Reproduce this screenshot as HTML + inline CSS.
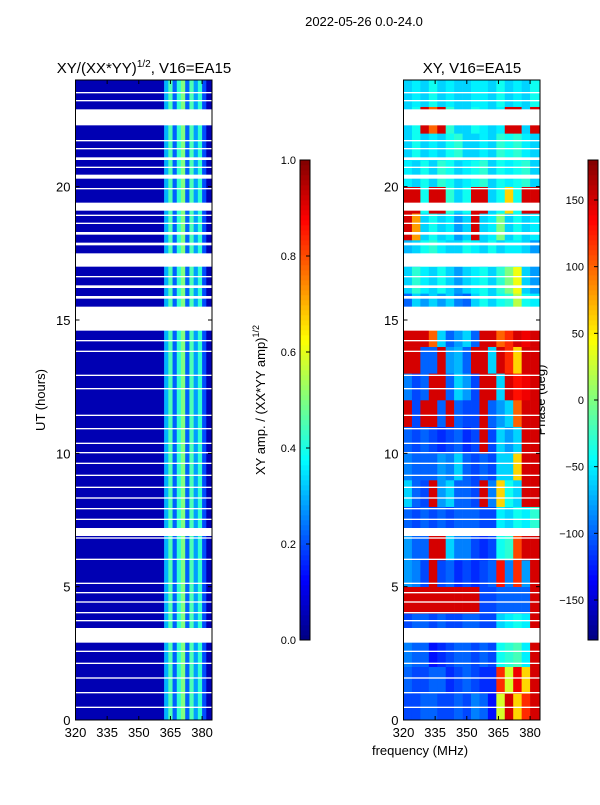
<!DOCTYPE html>
<html><head><meta charset="utf-8">
<style>
body{margin:0;background:#fff;font-family:"Liberation Sans",sans-serif;}
svg text{font-family:"Liberation Sans",sans-serif;fill:#000;}
</style></head>
<body>
<svg id="fig" width="600" height="800" viewBox="0 0 600 800" xmlns="http://www.w3.org/2000/svg">
<rect width="600" height="800" fill="#fff"/>
<text x="364" y="26" font-size="13" text-anchor="middle">2022-05-26 0.0-24.0</text>
<text x="144" y="73" font-size="15" text-anchor="middle">XY/(XX*YY)<tspan font-size="10" dy="-6">1/2</tspan><tspan dy="6">, V16=EA15</tspan></text>
<text x="472" y="73" font-size="15" text-anchor="middle">XY, V16=EA15</text>
<text transform="translate(45,400) rotate(-90)" font-size="13" text-anchor="middle">UT (hours)</text>
<text x="420" y="755" font-size="13" text-anchor="middle">frequency (MHz)</text>
<text transform="translate(265,400) rotate(-90)" font-size="13" text-anchor="middle">XY amp. / (XX*YY amp)<tspan font-size="9" dy="-6">1/2</tspan></text>
<text transform="translate(545,400) rotate(-90)" font-size="13" text-anchor="middle">Phase (deg)</text>
<g id="left"></g>
<g id="right"></g>
<g id="cb1"></g>
<g id="cb2"></g>
<g id="axes"></g>
</svg>
<script>
const freqEdges=[320,324,328,332,336,340,344,348,352,356,360,364,368,372,376,380,384.7];
const ampFreqEdges=[320,362,364,366,368,370,372,374,376,378,380,382,384.7];
const ampValues=[0.05,0.3,0.45,0.22,0.42,0.5,0.22,0.45,0.28,0.42,0.2,0.05];
const phaseValues=[
[-110,-110,-100,-100,-110,-110,-100,-110,-90,-100,-130,30,150,60,120,150],
[-100,-110,-110,-100,-100,-120,-110,-100,-110,-120,-120,120,30,140,60,150],
[-90,-100,-100,-130,-120,-110,-100,-100,-110,-100,-110,-40,-30,-20,-50,150],
[-110,-100,-100,-110,-100,-110,-110,-100,-100,-110,-110,-60,-50,-40,-50,150],
[150,150,150,150,150,150,150,150,150,-110,-110,-100,-100,-100,-100,150],
[-80,-90,-110,150,-110,-100,-120,-110,-120,-110,-100,130,-90,120,-80,150],
[-80,-100,-100,150,150,-60,-90,-90,-110,-120,-110,-40,-30,110,150,150],
[-100,-110,-100,-110,-100,-110,-100,-100,-100,-110,-110,-50,-60,-40,-50,-30],
[-60,-100,-110,150,-80,-60,-100,-100,-110,150,-90,60,-40,-60,150,150],
[-90,-100,-100,-100,-80,-90,-60,-100,-110,-100,-110,-60,-60,60,150,150],
[-100,-110,-100,-110,-120,-110,-100,-120,-110,150,-110,-60,-80,-60,150,150],
[150,-110,150,150,-100,150,-100,-110,-110,150,-100,-80,-60,100,150,150],
[-90,-110,-100,150,150,-100,-60,-80,-110,150,150,-60,150,130,140,150],
[150,150,-100,-100,150,-80,-70,-100,150,150,-60,150,120,60,150,150],
[150,150,150,100,-60,-100,-80,-60,-100,150,150,100,120,150,140,150],
[-100,-60,-80,-60,-80,-60,-90,-100,-60,-40,-60,-40,-30,20,-40,-50],
[-60,-30,-50,-60,-40,-60,-80,-60,-50,-40,-60,-30,0,40,-60,-80],
[-70,-60,-40,-30,-50,-60,-60,-40,-50,-60,-40,-60,-50,-50,-60,-80],
[150,80,-60,-40,-60,-50,-80,-60,150,-60,-50,0,-60,-40,-60,-50],
[150,150,-40,150,150,-30,-60,-40,150,150,-60,-40,60,-40,150,150],
[-50,-60,-40,-60,-30,-40,-60,-50,-40,-30,-60,-40,-50,-40,-30,-60],
[-60,-40,-60,-50,-60,-40,-30,-60,-60,-50,-60,-30,-40,-30,-50,-60],
[-60,-40,150,100,150,-30,-60,-60,-40,-50,-60,-50,150,150,-60,150],
[-60,-50,-60,-40,-60,-50,-60,-60,-50,-50,-60,-40,-60,-50,-60,-40]];
const flaggedHours=[[0.45,0.5],[1.0,1.05],[1.55,1.6],[2.1,2.15],[2.55,2.6],[2.9,3.45],[3.7,3.75],[4.0,4.05],[4.4,4.45],[4.75,4.8],[5.1,5.15],[6.0,6.05],[6.8,6.85],[6.9,7.2],[7.5,7.55],[7.9,7.95],[8.3,8.35],[8.7,8.75],[9.15,9.2],[9.6,9.65],[10.0,10.05],[10.35,10.4],[10.9,10.95],[11.4,11.45],[12.4,12.45],[12.9,12.95],[13.8,13.85],[14.2,14.25],[14.6,15.5],[15.8,15.9],[16.2,16.3],[16.6,16.65],[17.0,17.5],[17.8,17.9],[18.2,18.3],[18.6,18.65],[18.9,18.95],[19.1,19.4],[19.9,19.95],[20.3,20.45],[20.7,20.75],[21.0,21.1],[21.4,21.45],[21.7,21.75],[22.3,22.9],[23.2,23.25],[23.5,23.55]];
const xTicks=[320,335,350,365,380];
const yTicks=[0,5,10,15,20];
const ampTicks=[0.0,0.2,0.4,0.6,0.8,1.0];
const phaseTicks=[-150,-100,-50,0,50,100,150];

const NS="http://www.w3.org/2000/svg";
const Y0=720,Y1=80,FMIN=320,FMAX=384.7;
function yScale(h){return Y0-(h/24)*(Y0-Y1);}
function xScaleL(f){return 75.5+(f-FMIN)/(FMAX-FMIN)*(212-75.5);}
function xScaleR(f){return 403.5+(f-FMIN)/(FMAX-FMIN)*(540-403.5);}
function jet(t){t=Math.max(0,Math.min(1,t));
 const r=Math.max(0,Math.min(1,1.5-Math.abs(4*t-3))),g=Math.max(0,Math.min(1,1.5-Math.abs(4*t-2))),b=Math.max(0,Math.min(1,1.5-Math.abs(4*t-1)));
 return `rgb(${Math.round(r*255)},${Math.round(g*255)},${Math.round(b*255)})`;}
function mk(tag,attrs,parent){const e=document.createElementNS(NS,tag);for(const k in attrs)e.setAttribute(k,attrs[k]);parent.appendChild(e);return e;}

const L=document.getElementById('left'),R=document.getElementById('right');
ampValues.forEach((v,i)=>{
 const x0=xScaleL(ampFreqEdges[i]),x1=xScaleL(ampFreqEdges[i+1]);
 const r=mk('rect',{x:x0,y:Y1,width:x1-x0+0.3,height:Y0-Y1,fill:jet(v)},L);
 
 
});
phaseValues.forEach((row,h)=>{
 row.forEach((v,j)=>{
  const x0=xScaleR(freqEdges[j]),x1=xScaleR(freqEdges[j+1]);
  const r=mk('rect',{x:x0,y:yScale(h+1),width:x1-x0+0.3,height:yScale(h)-yScale(h+1)+0.3,fill:jet((v+180)/360)},R);
  
  
 });
});
flaggedHours.forEach(([a,b])=>{
 [[L,75.5,212],[R,403.5,540]].forEach(([g,xa,xb])=>{
  const r=mk('rect',{x:xa,y:yScale(b),width:xb-xa,height:Math.max(1.2,yScale(a)-yScale(b)),fill:'#fff'},g);
  
  
 });
});
// colorbars
function colorbar(id,x,min,max,ticks){
 const g=document.getElementById(id);
 for(let i=0;i<96;i++){
  const r=mk('rect',{x:x,y:640-(i+1)*5,width:10,height:5.3,fill:jet((i+0.5)/96)},g);
  
  
 }
 mk('rect',{x:x,y:160,width:10,height:480,fill:'none',stroke:'#000','stroke-width':1},g);
 ticks.forEach(t=>{
  const y=640-(t-min)/(max-min)*480;
  const l=mk('line',{x1:x+6,x2:x+10,y1:y,y2:y,stroke:'#000'},g);
  
  
  const tx=mk('text',{x:x-4,y:y+4,'font-size':11,'text-anchor':'end'},g);
  tx.textContent=(id==='cb1')?t.toFixed(1):(t<0?'\u2212'+(-t):String(t));
  
  
 });
}
colorbar('cb1',300,0,1,ampTicks);
colorbar('cb2',588,-180,180,phaseTicks);
// axes
const A=document.getElementById('axes');
[[75.5,212,xScaleL],[403.5,540,xScaleR]].forEach(([xa,xb,xs])=>{
 mk('rect',{x:xa,y:Y1,width:xb-xa,height:Y0-Y1,fill:'none',stroke:'#000','stroke-width':1},A);
 xTicks.forEach(f=>{
  const x=xs(f);
  mk('line',{x1:x,x2:x,y1:Y0,y2:Y0-4,stroke:'#000'},A);
  mk('line',{x1:x,x2:x,y1:Y1,y2:Y1+4,stroke:'#000'},A);
  const t=mk('text',{x:x,y:Y0+17,'font-size':13,'text-anchor':'middle'},A);
  t.textContent=f;
  
  
 });
 yTicks.forEach(h=>{
  const y=yScale(h);
  mk('line',{x1:xa,x2:xa+4,y1:y,y2:y,stroke:'#000'},A);
  mk('line',{x1:xb,x2:xb-4,y1:y,y2:y,stroke:'#000'},A);
  const t=mk('text',{x:xa-5,y:y+5,'font-size':13,'text-anchor':'end'},A);
  t.textContent=h;
  
  
 });
});
</script>
</body></html>
